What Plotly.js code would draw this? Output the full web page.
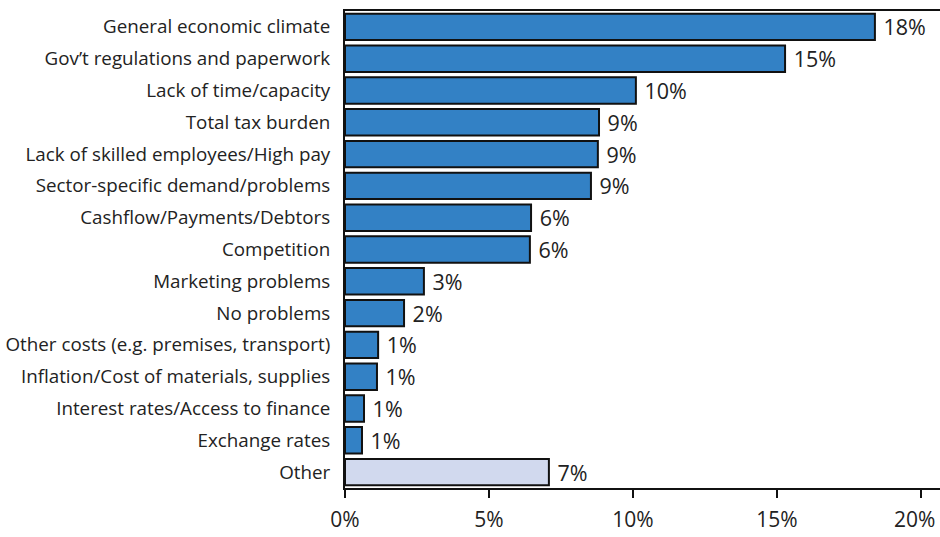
<!DOCTYPE html>
<html>
<head>
<meta charset="utf-8">
<script src="https://cdn.plot.ly/plotly-3.0.1.min.js"></script>
<style>html,body{margin:0;padding:0;background:#fff;}#chart{width:940px;height:537px;}</style>
</head>
<body>
<div id="chart"></div>
<script>
const categories = [
  "General economic climate",
  "Gov\u2019t regulations and paperwork",
  "Lack of time/capacity",
  "Total tax burden",
  "Lack of skilled employees/High pay",
  "Sector-specific demand/problems",
  "Cashflow/Payments/Debtors",
  "Competition",
  "Marketing problems",
  "No problems",
  "Other costs (e.g. premises, transport)",
  "Inflation/Cost of materials, supplies",
  "Interest rates/Access to finance",
  "Exchange rates",
  "Other"
];
const values = [18.4, 15.28, 10.1, 8.82, 8.78, 8.54, 6.46, 6.42, 2.74, 2.05, 1.15, 1.11, 0.66, 0.59, 7.08];
const tickVals = [0, 5, 10, 15, 20];
const tickText = ["0%", "5%", "10%", "15%", "20%"];

const mainColor = "#3381c5";
const otherColor = "#d1d9ee";
const colors = categories.map(c => c === "Other" ? otherColor : mainColor);

const trace = {
  type: "bar",
  orientation: "h",
  y: categories,
  x: values,
  marker: { color: colors, line: { color: "#111", width: 2 } },
  texttemplate: "\u00A0%{x:.0f}%",
  textposition: "outside",
  constraintext: "none",
  textfont: { family: "Open Sans, sans-serif", size: 21.5, color: "#222" },
  cliponaxis: false,
  hoverinfo: "none"
};

const lastIdx = tickVals.length - 1;
const shownTickText = tickText.map((t, i) => i === lastIdx ? "" : t);

const layout = {
  width: 940, height: 537,
  margin: { l: 345, r: 0, t: 11, b: 49, pad: 0 },
  paper_bgcolor: "#fff", plot_bgcolor: "#fff",
  showlegend: false,
  bargap: 0.17,
  font: { family: "Open Sans, sans-serif", color: "#222" },
  xaxis: {
    range: [0, 20.66],
    tickvals: tickVals, ticktext: shownTickText,
    ticks: "outside", ticklen: 8, tickwidth: 2, tickcolor: "#111",
    showline: true, linecolor: "#111", linewidth: 2, mirror: true,
    showgrid: false, zeroline: false,
    ticklabelstandoff: 4,
    tickfont: { size: 21, color: "#222" }
  },
  yaxis: {
    autorange: "reversed",
    showline: true, linecolor: "#111", linewidth: 2,
    ticks: "", showgrid: false, zeroline: false,
    ticklabelstandoff: 9,
    tickfont: { size: 18.8, color: "#222" }
  },
  annotations: [{
    xref: "x", yref: "paper",
    x: tickVals[lastIdx], y: 0,
    xanchor: "right", yanchor: "top",
    xshift: 16, yshift: -15,
    text: tickText[lastIdx],
    showarrow: false,
    font: { family: "Open Sans, sans-serif", size: 21, color: "#222" }
  }]
};

Plotly.newPlot("chart", [trace], layout, { staticPlot: true });
</script>
</body>
</html>
